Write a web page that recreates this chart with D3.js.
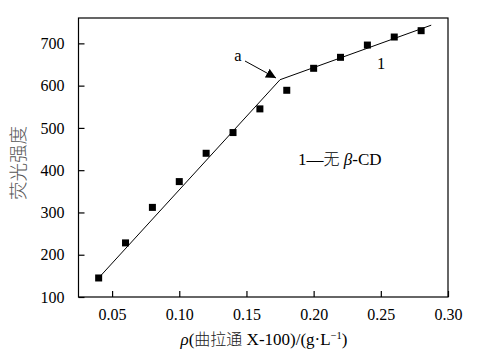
<!DOCTYPE html>
<html>
<head>
<meta charset="utf-8">
<script src="https://cdn.jsdelivr.net/npm/d3@7"></script>
<style>
  body { margin: 0; background: #fff; }
</style>
</head>
<body>
<svg id="chart" width="486" height="362"></svg>
<script>
// measured points (triton X-100 concentration vs fluorescence intensity)
const conc = [0.04, 0.06, 0.08, 0.10, 0.12, 0.14, 0.16, 0.18, 0.20, 0.22, 0.24, 0.26, 0.28];
const intensity = [145, 228, 312, 373, 440, 489, 545, 589, 641, 667, 696, 715, 730];

// fitted broken line, knee at point "a"
const fitX = [0.042, 0.175, 0.2875];
const fitY = [152, 614, 743];

const xTicks = [0.05, 0.10, 0.15, 0.20, 0.25, 0.30];
const yTicks = [100, 200, 300, 400, 500, 600, 700];

const SERIF = "Liberation Serif";
const CJK = "Noto Sans CJK SC";

const svg = d3.select("#chart");
const margin = {left: 78.5, top: 18, right: 38, bottom: 65};
const W = 486, H = 362;

const x = d3.scaleLinear().domain([0.025, 0.30]).range([margin.left, W - margin.right]);
const y = d3.scaleLinear().domain([100, 760]).range([H - margin.bottom, margin.top]);

// frame
svg.append("rect")
    .attr("x", x(0.025)).attr("y", y(760))
    .attr("width", x(0.30) - x(0.025)).attr("height", y(100) - y(760))
    .attr("fill", "none").attr("stroke", "#000").attr("stroke-width", 1.2);

const xAxis = svg.append("g")
    .attr("transform", `translate(0,${y(100)})`)
    .call(d3.axisBottom(x).tickValues(xTicks).tickFormat(d3.format(".2f")).tickSizeInner(-6).tickSizeOuter(0).tickPadding(12));
const yAxis = svg.append("g")
    .attr("transform", `translate(${x(0.025)},0)`)
    .call(d3.axisLeft(y).tickValues(yTicks).tickSizeInner(-6).tickSizeOuter(0).tickPadding(14));

[xAxis, yAxis].forEach(g => {
    g.attr("font-family", SERIF).attr("font-size", 16);
    g.select(".domain").remove();
    g.selectAll("line").attr("stroke", "#000").attr("stroke-width", 1.2);
    g.selectAll("text").attr("fill", "#000");
});

// fit line
const pts = fitX.map((d, i) => [d, fitY[i]]);
svg.append("path")
    .datum(pts)
    .attr("fill", "none").attr("stroke", "#000").attr("stroke-width", 1)
    .attr("d", d3.line().x(d => x(d[0])).y(d => y(d[1])));

// markers
svg.append("g")
    .selectAll("rect")
    .data(conc)
    .join("rect")
    .attr("x", (d) => x(d) - 3.5)
    .attr("y", (d, i) => y(intensity[i]) - 3.5)
    .attr("width", 7).attr("height", 7)
    .attr("fill", "#000");

// annotation a with arrow
svg.append("defs").append("marker")
    .attr("id", "tri").attr("viewBox", "0 0 10 10")
    .attr("refX", 10).attr("refY", 5)
    .attr("markerWidth", 10).attr("markerHeight", 10)
    .attr("markerUnits", "userSpaceOnUse")
    .attr("orient", "auto")
    .append("path").attr("d", "M0,0L10,5L0,10Z").attr("fill", "#000");

svg.append("line")
    .attr("x1", 245).attr("y1", 61)
    .attr("x2", 276).attr("y2", 78)
    .attr("stroke", "#000").attr("stroke-width", 1)
    .attr("marker-end", "url(#tri)");

svg.append("text").attr("x", 238).attr("y", 61).attr("text-anchor", "middle")
    .attr("font-family", SERIF).attr("font-size", 16.5).text("a");
svg.append("text").attr("x", 381).attr("y", 69).attr("text-anchor", "middle")
    .attr("font-family", SERIF).attr("font-size", 16.5).text("1");

const leg = svg.append("text").attr("x", 298).attr("y", 165)
    .attr("font-family", SERIF).attr("font-size", 17);
leg.append("tspan").text("1—");
leg.append("tspan").attr("font-family", CJK).attr("font-weight", 300).attr("font-size", 16).text("无");
leg.append("tspan").attr("font-style", "italic").text(" β");
leg.append("tspan").text("-CD");

// axis titles
svg.append("text")
    .attr("transform", `translate(25,163) rotate(-90)`)
    .attr("text-anchor", "middle")
    .attr("font-family", CJK).attr("font-weight", 300)
    .attr("font-size", 18.5).attr("fill", "#555")
    .text("荧光强度");

const xl = svg.append("text").attr("x", 264).attr("y", 345).attr("text-anchor", "middle")
    .attr("font-family", SERIF).attr("font-size", 17);
xl.append("tspan").attr("font-style", "italic").text("ρ");
xl.append("tspan").text("(");
xl.append("tspan").attr("font-family", CJK).attr("font-weight", 300).attr("font-size", 16).attr("fill", "#222").text("曲拉通");
xl.append("tspan").text(" X-100)/(g·L");
xl.append("tspan").attr("font-size", 10.5).attr("dy", -6).text("−1");
xl.append("tspan").attr("dy", 6).text(")");
</script>
</body>
</html>
